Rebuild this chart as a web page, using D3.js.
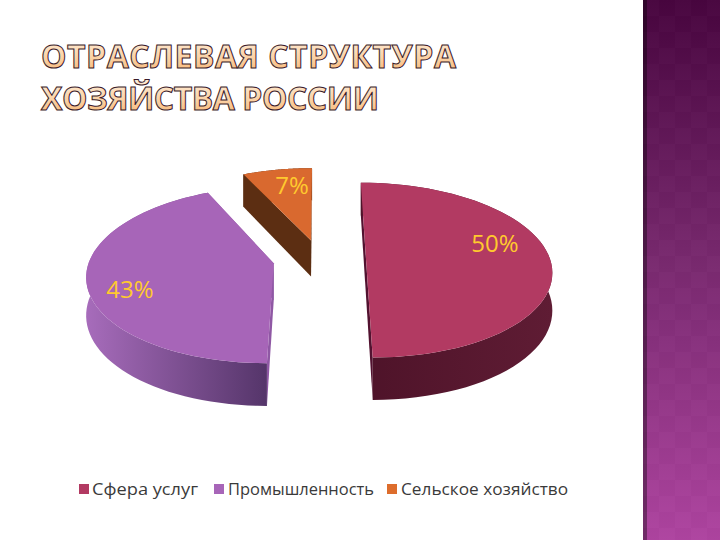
<!DOCTYPE html>
<html><head><meta charset="utf-8">
<script src="https://cdn.jsdelivr.net/npm/d3@7"></script>
<style>html,body{margin:0;padding:0;background:#fff}svg{display:block}</style>
</head><body><svg id="c" width="720" height="540"></svg>
<script>
const titleLines = ["ОТРАСЛЕВАЯ СТРУКТУРА", "ХОЗЯЙСТВА РОССИИ"];
const titleWidths = [415, 338];
const categories = ["Сфера услуг", "Промышленность", "Сельское хозяйство"];
const values = [50, 43, 7];
const labels = ["50%", "43%", "7%"];
const topColors = ["#b23a62", "#a765b8", "#d9692f"];
const legendColors = ["#b23a62", "#a765b8", "#dd6d2c"];
const explodeX = [0.25, -0.25, -0.05];
const explodeY = [0, 0.05, -0.22];
const labelPos = [[495, 252], [130, 298], [292, 194]];
const wallLeft = ["#4e1329", "#a76cbb", "#5c2e12"];
const wallRight = ["#5f1c34", "#55356a", "#5c2e12"];
const cutColors = ["#521230", "#8f58a4", "#5c2e12"];

const svg = d3.select("#c");
const defs = svg.append("defs");

const W = 720, H = 540;
const panelX = 643;
const pg = defs.append("linearGradient").attr("id","panel").attr("x1",0).attr("y1",0).attr("x2",0).attr("y2",1);
pg.append("stop").attr("offset","0").attr("stop-color","#48053f");
pg.append("stop").attr("offset","0.5").attr("stop-color","#7a2a70");
pg.append("stop").attr("offset","1").attr("stop-color","#ae44a0");
const pat = defs.append("pattern").attr("id","checks").attr("width",32).attr("height",32).attr("patternUnits","userSpaceOnUse").attr("x",panelX);
pat.append("rect").attr("width",16).attr("height",16).attr("fill","#fff").attr("opacity",0.012);
pat.append("rect").attr("x",16).attr("y",16).attr("width",16).attr("height",16).attr("fill","#fff").attr("opacity",0.012);
pat.append("rect").attr("x",16).attr("width",16).attr("height",16).attr("fill","#000").attr("opacity",0.012);
pat.append("rect").attr("y",16).attr("width",16).attr("height",16).attr("fill","#000").attr("opacity",0.012);
svg.append("rect").attr("x",panelX).attr("y",0).attr("width",W-panelX).attr("height",H).attr("fill","url(#panel)");
svg.append("rect").attr("x",panelX).attr("y",0).attr("width",W-panelX).attr("height",H).attr("fill","url(#checks)");
svg.append("rect").attr("x",panelX).attr("y",0).attr("width",4).attr("height",H).attr("fill","#000").attr("opacity",0.35);

const tg = defs.append("linearGradient").attr("id","titleFill").attr("x1",0).attr("y1",0).attr("x2",0).attr("y2",1);
tg.append("stop").attr("offset","0").attr("stop-color","#fff1e0");
tg.append("stop").attr("offset","0.55").attr("stop-color","#fbd2a6");
tg.append("stop").attr("offset","1").attr("stop-color","#f6b06a");
const titleY = d3.scalePoint().domain(titleLines).range([68, 110]);
svg.selectAll("text.title").data(titleLines).join("text").attr("class","title")
  .attr("x",41).attr("y",d=>titleY(d))
  .attr("font-family","'Open Sans','Noto Sans',sans-serif").attr("font-size",32).attr("font-weight",700)
  .attr("textLength",(d,i)=>titleWidths[i]).attr("lengthAdjust","spacing")
  .attr("fill","url(#titleFill)").attr("stroke","#3a1a2a").attr("stroke-width",1)
  .text(d=>d);

// perspective projection of a unit disc, driven by a d3 pie layout
const R = 184, Ry = 86, cx = 320, cy = 259, depth = 37, persp = 0.127;
function project(u, v, down) {
  const s = 1 / (1 - persp * v);
  return [cx + R * u * s, cy + Ry * v * s + (down ? depth * s : 0)];
}
const pie = d3.pie().sort(null).value(d=>d);
const arcs = pie(values);
const pathOf = pts => d3.line()(pts) + "Z";
const layer = svg.append("g");

arcs.forEach((a, i) => {
  const ex = explodeX[i], ey = explodeY[i];
  const steps = d3.range(0, 61).map(k => a.startAngle + (a.endAngle - a.startAngle) * k / 60);
  const rim = steps.map(t => [ex + Math.sin(t), ey - Math.cos(t)]);
  const apex = [ex, ey];
  const P = (p, d) => project(p[0], p[1], d);

  // cut faces
  [rim[0], rim[rim.length - 1]].forEach(p => {
    layer.append("path").attr("d", pathOf([P(apex,0), P(p,0), P(p,1), P(apex,1)]))
      .attr("fill", cutColors[i]);
  });
  // rim wall, one shape with a left-to-right gradient
  const xs = d3.extent(rim, p => P(p,0)[0]);
  const wg = defs.append("linearGradient").attr("id","wall"+i).attr("gradientUnits","userSpaceOnUse")
    .attr("x1",xs[0]).attr("y1",0).attr("x2",xs[1]).attr("y2",0);
  wg.append("stop").attr("offset","0").attr("stop-color",wallLeft[i]);
  wg.append("stop").attr("offset","1").attr("stop-color",wallRight[i]);
  layer.append("path")
    .attr("d", pathOf([...rim.map(p => P(p,0)), ...rim.slice().reverse().map(p => P(p,1))]))
    .attr("fill", "url(#wall"+i+")");
  // top face
  layer.append("path").attr("d", pathOf([P(apex,0), ...rim.map(p => P(p,0))])).attr("fill", topColors[i]);
});

svg.selectAll("text.lab").data(labels).join("text").attr("class","lab")
  .attr("x",(d,i)=>labelPos[i][0]).attr("y",(d,i)=>labelPos[i][1])
  .attr("text-anchor","middle")
  .attr("font-family","'Open Sans',sans-serif").attr("font-size",24)
  .attr("fill","#ffc92e").text(d=>d);

const legendSwatch = d3.scaleOrdinal().domain(categories).range([79, 214, 387]);
const legendText = d3.scaleOrdinal().domain(categories).range([92, 228, 401]);
const legendLen = d3.scaleOrdinal().domain(categories).range([106, 146, 167]);
const lg = svg.selectAll("g.leg").data(categories).join("g").attr("class","leg");
lg.append("rect").attr("x",d=>legendSwatch(d)).attr("y",484).attr("width",10).attr("height",10).attr("fill",(d,i)=>legendColors[i]);
lg.append("text").attr("x",d=>legendText(d)).attr("y",495)
  .attr("font-family","'Open Sans',sans-serif").attr("font-size",16.5).attr("fill","#3a3a3a")
  .attr("textLength",d=>legendLen(d)).attr("lengthAdjust","spacingAndGlyphs").text(d=>d);
</script></body></html>
